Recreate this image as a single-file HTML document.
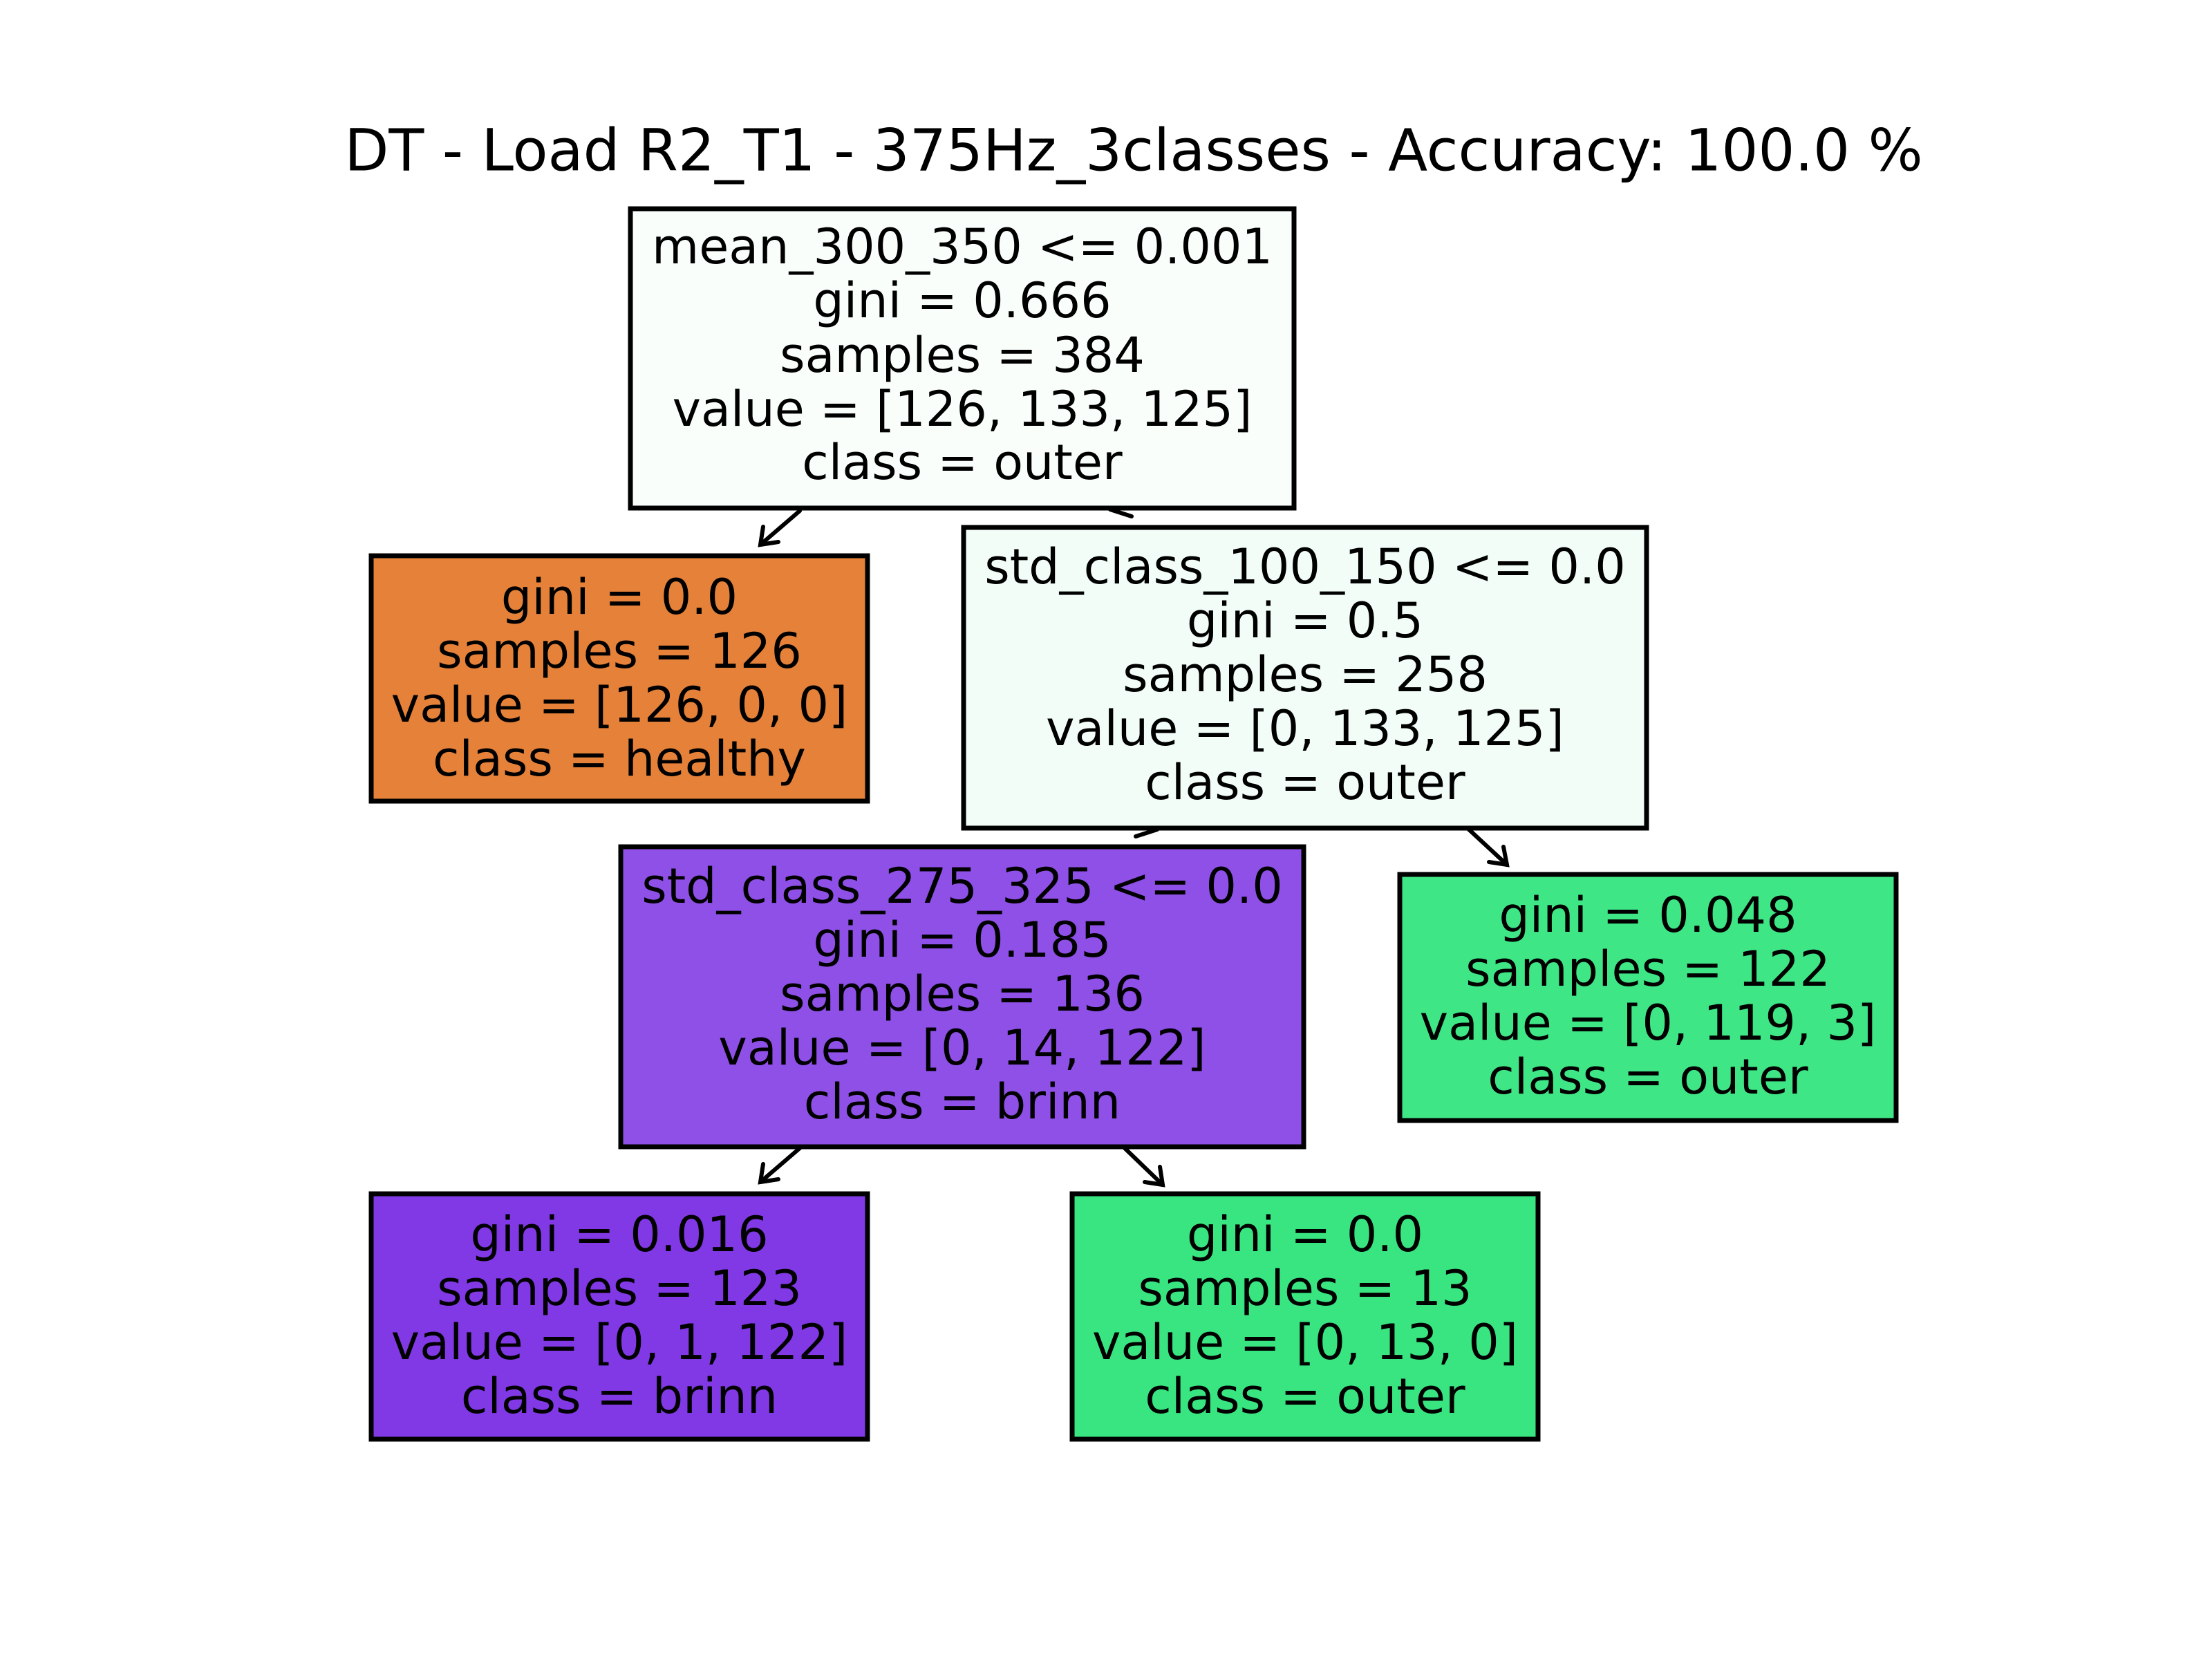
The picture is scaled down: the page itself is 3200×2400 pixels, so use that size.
<!DOCTYPE html>
<html><head><meta charset="utf-8"><style>html,body{margin:0;padding:0;background:#fff}svg{display:block}</style></head>
<body>
<svg width="3200" height="2400" viewBox="0 0 3200 2400" xmlns="http://www.w3.org/2000/svg" font-family="'DejaVu Sans','Liberation Sans',sans-serif">
<rect width="3200" height="2400" fill="#fff"/>
<text x="1640" y="218" font-size="83.4" text-anchor="middle" dominant-baseline="central">DT - Load R2_T1 - 375Hz_3classes - Accuracy: 100.0 %</text>
<g stroke="#000" stroke-width="6" fill="none" stroke-linecap="round">
<line x1="1157" y1="739" x2="1100" y2="788"/><polyline points="1104,762 1100,788 1126,784"/>
<line x1="1606" y1="737" x2="1637" y2="747"/>
<line x1="1674" y1="1200" x2="1643" y2="1210"/>
<line x1="2125" y1="1200" x2="2180" y2="1251"/><polyline points="2154,1247 2180,1251 2175,1225"/>
<line x1="1157" y1="1661" x2="1100" y2="1710"/><polyline points="1104,1684 1100,1710 1126,1706"/>
<line x1="1627" y1="1661" x2="1682" y2="1714"/><polyline points="1656,1710 1682,1714 1678,1688"/>
</g>
<g stroke="#000" stroke-width="7">
<rect x="912" y="302" width="960" height="433" fill="#f9fefb"/>
<rect x="537" y="804" width="718" height="355" fill="#e58139"/>
<rect x="1394" y="763" width="988" height="435" fill="#f1fdf6"/>
<rect x="898" y="1225" width="988" height="434" fill="#8e50e6"/>
<rect x="2025" y="1265" width="718" height="356" fill="#3fe686"/>
<rect x="537" y="1727" width="718" height="355" fill="#8139e5"/>
<rect x="1551" y="1727" width="674" height="355" fill="#39e581"/>
</g>
<g font-size="70" text-anchor="middle" dominant-baseline="central" fill="#000">
<text x="1392" y="357">mean_300_350 &lt;= 0.001</text>
<text x="1392" y="435">gini = 0.666</text>
<text x="1392" y="514">samples = 384</text>
<text x="1392" y="592">value = [126, 133, 125]</text>
<text x="1392" y="669">class = outer</text>

<text x="896" y="864">gini = 0.0</text>
<text x="896" y="942">samples = 126</text>
<text x="896" y="1020">value = [126, 0, 0]</text>
<text x="896" y="1098">class = healthy</text>

<text x="1888" y="820">std_class_100_150 &lt;= 0.0</text>
<text x="1888" y="898">gini = 0.5</text>
<text x="1888" y="976">samples = 258</text>
<text x="1888" y="1054">value = [0, 133, 125]</text>
<text x="1888" y="1132">class = outer</text>

<text x="1392" y="1282">std_class_275_325 &lt;= 0.0</text>
<text x="1392" y="1360">gini = 0.185</text>
<text x="1392" y="1438">samples = 136</text>
<text x="1392" y="1516">value = [0, 14, 122]</text>
<text x="1392" y="1594">class = brinn</text>

<text x="2384" y="1324">gini = 0.048</text>
<text x="2384" y="1402">samples = 122</text>
<text x="2384" y="1480">value = [0, 119, 3]</text>
<text x="2384" y="1558">class = outer</text>

<text x="896" y="1786">gini = 0.016</text>
<text x="896" y="1864">samples = 123</text>
<text x="896" y="1942">value = [0, 1, 122]</text>
<text x="896" y="2020">class = brinn</text>

<text x="1888" y="1786">gini = 0.0</text>
<text x="1888" y="1864">samples = 13</text>
<text x="1888" y="1942">value = [0, 13, 0]</text>
<text x="1888" y="2020">class = outer</text>
</g>
</svg>
</body></html>
